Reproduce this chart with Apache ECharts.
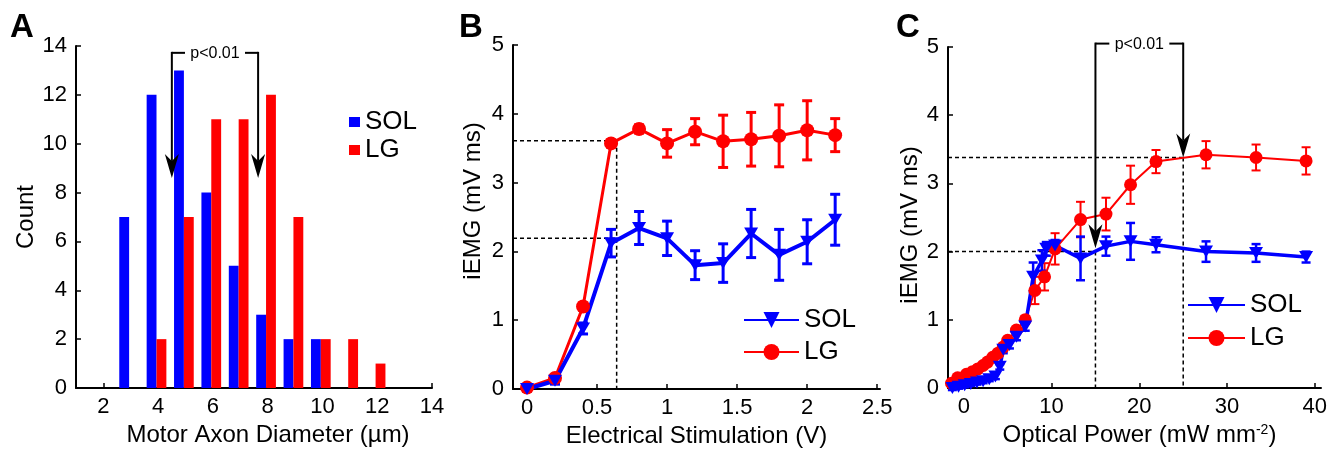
<!DOCTYPE html>
<html><head><meta charset="utf-8">
<script src="https://cdn.jsdelivr.net/npm/echarts@6/dist/echarts.min.js"></script>
<style>html,body{margin:0;padding:0;background:#fff}#c{width:1343px;height:453px}</style>
</head><body><div id="c"></div>
<script>
// ---------- Panel A: histogram of motor axon diameters ----------
const binsSOL = [3, 4, 5, 6, 7, 8, 9, 10];
const countsSOL = [7, 12, 13, 8, 5, 3, 2, 2];
const binsLG = [4, 5, 6, 7, 8, 9, 10, 11, 12];
const countsLG = [2, 7, 11, 11, 12, 7, 2, 2, 1];
const ticksA = [2, 4, 6, 8, 10, 12, 14];
// bracket: x left arrow, x right arrow, y top, y tip left, y tip right
const bracketA = [4.5, 7.65, 13.72, 8.6, 8.6];

// ---------- Panel B: electrical stimulation ----------
const stimV = [0, 0.2, 0.4, 0.6, 0.8, 1.0, 1.2, 1.4, 1.6, 1.8, 2.0, 2.2];
const bSOL = [0.0, 0.12, 0.88, 2.12, 2.34, 2.19, 1.80, 1.83, 2.26, 1.95, 2.14, 2.46];
const bSOLerr = [0.03, 0.05, 0.08, 0.2, 0.24, 0.25, 0.21, 0.28, 0.35, 0.37, 0.32, 0.37];
const bLG = [0.02, 0.16, 1.2, 3.57, 3.78, 3.57, 3.74, 3.60, 3.63, 3.68, 3.76, 3.69];
const bLGerr = [0.03, 0.05, 0.05, 0.05, 0.06, 0.2, 0.19, 0.38, 0.39, 0.45, 0.43, 0.24];
const ticksB = [0, 0.5, 1, 1.5, 2, 2.5];
// dashed guide segments [x1, y1, x2, y2]
const dashB = [[-0.1, 3.61, 0.64, 3.61], [-0.1, 2.19, 0.64, 2.19], [0.64, 3.61, 0.64, 0]];

// ---------- Panel C: optical power ----------
const powLG = [-1.4, -0.7, 0.3, 1.0, 1.6, 2.2, 2.7, 3.3, 3.9, 4.5, 5.0, 6.0, 7.0, 8.1, 9.2, 10.4, 13.3, 16.2, 19.0, 21.9, 27.6, 33.3, 39.0];
const cLG = [0.07, 0.15, 0.2, 0.24, 0.28, 0.33, 0.38, 0.45, 0.51, 0.6, 0.7, 0.85, 1.0, 1.43, 1.63, 2.04, 2.47, 2.55, 2.98, 3.32, 3.42, 3.38, 3.33];
const cLGerr = [0.03, 0.03, 0.03, 0.03, 0.03, 0.03, 0.04, 0.04, 0.04, 0.05, 0.05, 0.05, 0.06, 0.2, 0.2, 0.23, 0.26, 0.24, 0.28, 0.17, 0.2, 0.19, 0.2];
const powSOL = [-1.3, -0.6, 0.1, 0.8, 1.5, 2.2, 2.9, 3.6, 4.1, 4.5, 5.2, 6.0, 7.0, 7.9, 8.9, 9.4, 10.4, 13.3, 16.2, 19.0, 21.9, 27.6, 33.3, 39.0];
const cSOL = [0.0, 0.02, 0.04, 0.06, 0.08, 0.1, 0.13, 0.17, 0.31, 0.56, 0.63, 0.75, 0.9, 1.63, 1.87, 2.04, 2.09, 1.9, 2.08, 2.15, 2.1, 2.0, 1.98, 1.92];
const cSOLerr = [0.03, 0.03, 0.03, 0.03, 0.03, 0.03, 0.03, 0.04, 0.04, 0.05, 0.05, 0.05, 0.06, 0.21, 0.15, 0.1, 0.08, 0.32, 0.14, 0.27, 0.11, 0.15, 0.13, 0.08];
const ticksC = [0, 10, 20, 30, 40];
const dashC = [[-1.8, 2.0, 15, 2.0], [-1.8, 3.38, 25, 3.38], [15, 2.0, 15, 0], [25, 3.38, 25, 0]];
const bracketC = [15, 25, 5.05, 2.05, 3.38];

const FONT = '"Liberation Sans", Arial, Helvetica, sans-serif';
const BLUE = '#0000ff', RED = '#ff0000';
const TICK_FS = 22, TITLE_FS = 24, LEG_FS = 26;

function xAxisDef(grid, min, max, ticks, name, gap, namePad, rich) {
  return {
    type: 'value', gridIndex: grid, min: min, max: max,
    axisLine: {show: true, onZero: false, lineStyle: {color: '#000', width: 2}},
    axisTick: {show: true, inside: true, length: 5, customValues: ticks, lineStyle: {color: '#000', width: 1.5}},
    axisLabel: {show: true, customValues: ticks, color: '#000', fontSize: TICK_FS, fontFamily: FONT, margin: 8},
    splitLine: {show: false},
    name: name, nameLocation: 'middle', nameGap: gap,
    nameTextStyle: {color: '#000', fontSize: TITLE_FS, fontFamily: FONT, padding: namePad, rich: rich || {}}
  };
}
function yAxisDef(grid, max, interval, name, gap, namePad) {
  return {
    type: 'value', gridIndex: grid, min: 0, max: max, interval: interval,
    axisLine: {show: true, onZero: false, lineStyle: {color: '#000', width: 2}},
    axisTick: {show: true, inside: true, length: 5, lineStyle: {color: '#000', width: 1.5}},
    axisLabel: {show: true, color: '#000', fontSize: TICK_FS, fontFamily: FONT, margin: 9},
    splitLine: {show: false},
    name: name, nameLocation: 'middle', nameGap: gap,
    nameTextStyle: {color: '#000', fontSize: TITLE_FS, fontFamily: FONT, padding: namePad}
  };
}

function barRender(offL, offR, color) {
  return function (params, api) {
    const k = api.value(0), v = api.value(1);
    const p0 = api.coord([k + offL, v]);
    const p1 = api.coord([k + offR, 0]);
    return {type: 'rect', shape: {x: p0[0], y: p0[1], width: p1[0] - p0[0], height: p1[1] - p0[1]},
      style: {fill: color}};
  };
}
function errRender(capHalf, lw, color) {
  return function (params, api) {
    const x = api.value(0), y = api.value(1), e = api.value(2);
    const t = api.coord([x, y + e]), b = api.coord([x, y - e]);
    const st = {stroke: color, lineWidth: lw};
    return {type: 'group', children: [
      {type: 'line', shape: {x1: t[0], y1: t[1], x2: b[0], y2: b[1]}, style: st},
      {type: 'line', shape: {x1: t[0] - capHalf, y1: t[1], x2: t[0] + capHalf, y2: t[1]}, style: st},
      {type: 'line', shape: {x1: b[0] - capHalf, y1: b[1], x2: b[0] + capHalf, y2: b[1]}, style: st}
    ]};
  };
}
function dashRender(params, api) {
  const p = api.coord([api.value(0), api.value(1)]);
  const q = api.coord([api.value(2), api.value(3)]);
  return {type: 'line', shape: {x1: p[0], y1: p[1], x2: q[0], y2: q[1]},
    style: {stroke: '#000', lineWidth: 1.5, lineDash: [4, 3]}};
}
function arrowHead(tx, ty) {
  return {type: 'polygon', shape: {points: [[tx, ty], [tx - 7, ty - 24], [tx, ty - 17], [tx + 7, ty - 24]]},
    style: {fill: '#000'}};
}
function bracketRender(params, api) {
  const xl = api.value(0), xr = api.value(1), yt = api.value(2), yl = api.value(3), yr = api.value(4);
  const tl = api.coord([xl, yt]), tr = api.coord([xr, yt]);
  const al = api.coord([xl, yl]), ar = api.coord([xr, yr]);
  const mid = (tl[0] + tr[0]) / 2;
  const st = {stroke: '#000', lineWidth: 2};
  return {type: 'group', children: [
    {type: 'line', shape: {x1: tl[0], y1: tl[1], x2: mid - 30, y2: tl[1]}, style: st},
    {type: 'line', shape: {x1: mid + 30, y1: tr[1], x2: tr[0], y2: tr[1]}, style: st},
    {type: 'line', shape: {x1: tl[0], y1: tl[1] - 1, x2: al[0], y2: al[1] - 17}, style: st},
    {type: 'line', shape: {x1: tr[0], y1: tr[1] - 1, x2: ar[0], y2: ar[1] - 17}, style: st},
    arrowHead(al[0], al[1]), arrowHead(ar[0], ar[1]),
    {type: 'text', style: {text: 'p<0.01', x: mid, y: tl[1] + 1, textAlign: 'center', textVerticalAlign: 'middle',
      fill: '#000', font: '16px ' + FONT}}
  ]};
}

const zip3 = (xs, ys, es) => xs.map((x, i) => [x, ys[i], es[i]]);
const zip2 = (xs, ys) => xs.map((x, i) => [x, ys[i]]);

const legendCommon = {
  orient: 'vertical', padding: 0, selectedMode: false,
  textStyle: {fontSize: LEG_FS, color: '#000', fontFamily: FONT},
  formatter: n => n.split(':')[1]
};

const option = {
  animation: false,
  backgroundColor: '#fff',
  grid: [
    {left: 76, right: 911, top: 46, bottom: 65, containLabel: false, outerBoundsMode: 'none'},
    {left: 513, right: 463, top: 45, bottom: 64, containLabel: false, outerBoundsMode: 'none'},
    {left: 948, right: 22, top: 47, bottom: 65, containLabel: false, outerBoundsMode: 'none'}
  ],
  xAxis: [
    xAxisDef(0, 1, 14, ticksA, 'Motor Axon Diameter (µm)', 34, [0, 0, 0, 28]),
    xAxisDef(1, -0.1, 2.52, ticksB, 'Electrical Stimulation (V)', 34, 0),
    xAxisDef(2, -1.8, 40.7, ticksC, 'Optical Power (mW mm{sup|-2})', 34, [0, 0, 0, 10],
      {sup: {fontSize: 14, fontFamily: FONT, color: '#000', verticalAlign: 'top'}})
  ],
  yAxis: [
    yAxisDef(0, 14, 2, 'Count', 35, 0),
    yAxisDef(1, 5, 1, 'iEMG (mV ms)', 28, [0, 0, 0, 32]),
    yAxisDef(2, 5, 1, 'iEMG (mV ms)', 25, [0, 15, 0, 0])
  ],
  legend: [
    Object.assign({}, legendCommon, {data: ['A:SOL', 'A:LG'], left: 349, top: 109, itemWidth: 11, itemHeight: 10, itemGap: 2, icon: 'rect'}),
    Object.assign({}, legendCommon, {data: ['B:SOL', 'B:LG'], left: 743, top: 307, itemWidth: 55, itemHeight: 20, itemGap: 6}),
    Object.assign({}, legendCommon, {data: ['C:SOL', 'C:LG'], left: 1187, top: 292, itemWidth: 57, itemHeight: 20, itemGap: 7})
  ],
  graphic: [
    {type: 'text', left: 10, top: 11, style: {text: 'A', font: 'bold 33px ' + FONT, fill: '#000'}},
    {type: 'text', left: 459, top: 11, style: {text: 'B', font: 'bold 33px ' + FONT, fill: '#000'}},
    {type: 'text', left: 896, top: 11, style: {text: 'C', font: 'bold 33px ' + FONT, fill: '#000'}}
  ],
  series: [
    // Panel A
    {type: 'custom', name: 'A:SOL', xAxisIndex: 0, yAxisIndex: 0, data: zip2(binsSOL, countsSOL),
      encode: {x: 0, y: 1}, itemStyle: {color: BLUE}, renderItem: barRender(-0.42, -0.06, BLUE)},
    {type: 'custom', name: 'A:LG', xAxisIndex: 0, yAxisIndex: 0, data: zip2(binsLG, countsLG),
      encode: {x: 0, y: 1}, itemStyle: {color: RED}, renderItem: barRender(-0.06, 0.30, RED)},
    {type: 'custom', name: 'bracketA', xAxisIndex: 0, yAxisIndex: 0, data: [bracketA],
      encode: {x: [0, 1], y: [2, 3, 4]}, renderItem: bracketRender, z: 5},
    // Panel B
    {type: 'custom', name: 'dashB', xAxisIndex: 1, yAxisIndex: 1, data: dashB,
      encode: {x: [0, 2], y: [1, 3]}, renderItem: dashRender},
    {type: 'custom', name: 'errB_LG', xAxisIndex: 1, yAxisIndex: 1, data: zip3(stimV, bLG, bLGerr),
      encode: {x: 0, y: 1}, renderItem: errRender(5, 3, RED)},
    {type: 'line', name: 'B:LG', xAxisIndex: 1, yAxisIndex: 1, data: zip2(stimV, bLG),
      symbol: 'circle', symbolSize: 14, lineStyle: {color: RED, width: 3}, itemStyle: {color: RED}},
    {type: 'custom', name: 'errB_SOL', xAxisIndex: 1, yAxisIndex: 1, data: zip3(stimV, bSOL, bSOLerr),
      encode: {x: 0, y: 1}, renderItem: errRender(5, 3, BLUE)},
    {type: 'line', name: 'B:SOL', xAxisIndex: 1, yAxisIndex: 1, data: zip2(stimV, bSOL),
      symbol: 'triangle', symbolRotate: 180, symbolSize: [14, 12], lineStyle: {color: BLUE, width: 4}, itemStyle: {color: BLUE}},
    // Panel C
    {type: 'custom', name: 'dashC', xAxisIndex: 2, yAxisIndex: 2, data: dashC,
      encode: {x: [0, 2], y: [1, 3]}, renderItem: dashRender},
    {type: 'custom', name: 'errC_LG', xAxisIndex: 2, yAxisIndex: 2, data: zip3(powLG, cLG, cLGerr),
      encode: {x: 0, y: 1}, renderItem: errRender(4.5, 2, RED)},
    {type: 'line', name: 'C:LG', xAxisIndex: 2, yAxisIndex: 2, data: zip2(powLG, cLG),
      symbol: 'circle', symbolSize: 13, lineStyle: {color: RED, width: 2}, itemStyle: {color: RED}},
    {type: 'custom', name: 'errC_SOL', xAxisIndex: 2, yAxisIndex: 2, data: zip3(powSOL, cSOL, cSOLerr),
      encode: {x: 0, y: 1}, renderItem: errRender(4.5, 2.5, BLUE)},
    {type: 'line', name: 'C:SOL', xAxisIndex: 2, yAxisIndex: 2, data: zip2(powSOL, cSOL),
      symbol: 'triangle', symbolRotate: 180, symbolSize: [14, 12], lineStyle: {color: BLUE, width: 3.5}, itemStyle: {color: BLUE}},
    {type: 'custom', name: 'bracketC', xAxisIndex: 2, yAxisIndex: 2, data: [bracketC],
      encode: {x: [0, 1], y: [2, 3, 4]}, renderItem: bracketRender, z: 5}
  ]
};

const chart = echarts.init(document.getElementById('c'), null, {renderer: 'canvas', width: 1343, height: 453});
chart.setOption(option);
</script>
</body></html>
